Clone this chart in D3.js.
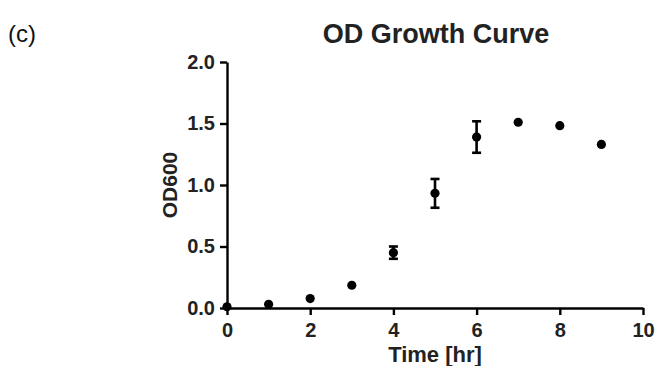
<!DOCTYPE html>
<html><head><meta charset="utf-8">
<script src="https://cdn.jsdelivr.net/npm/d3@7"></script>
<style>body{margin:0;background:#fff}svg{display:block}text{font-family:"Liberation Sans",Arial,sans-serif}</style>
</head><body>
<script>
const times = [0, 1, 2, 3, 4, 5, 6, 7, 8, 9];
const od600 = [0.01, 0.03, 0.077, 0.185, 0.45, 0.932, 1.39, 1.51, 1.482, 1.33];
const sdErr = [0, 0, 0, 0, 0.05, 0.117, 0.128, 0, 0, 0];
const xTicks = [0, 2, 4, 6, 8, 10];
const yTicks = [0, 0.5, 1.0, 1.5, 2.0];

const W = 657, H = 366;
const svg = d3.select("body").append("svg").attr("width", W).attr("height", H);
const x = d3.scaleLinear().domain([0, 10]).range([227, 643]);
const y = d3.scaleLinear().domain([0, 2]).range([308, 62]);

const xAxis = svg.append("g").attr("transform", `translate(0,${y(0)})`)
  .call(d3.axisBottom(x).tickValues(xTicks).tickSize(7).tickSizeOuter(0).tickPadding(8).tickFormat(d3.format("d")));
const yAxis = svg.append("g").attr("transform", `translate(${x(0)},0)`)
  .call(d3.axisLeft(y).tickValues(yTicks).tickSize(7).tickSizeOuter(0).tickPadding(5).tickFormat(d3.format(".1f")));
[xAxis, yAxis].forEach(g => {
  g.select(".domain").attr("stroke", "#000").attr("stroke-width", 2.4);
  g.selectAll(".tick line").attr("stroke", "#000").attr("stroke-width", 2.4);
  g.selectAll(".tick text").attr("fill", "#222").style("font-size", "20px").style("font-weight", "bold");
});

// error bars
const eb = svg.append("g").attr("stroke", "#000").attr("stroke-width", 2.6);
times.forEach((t, i) => {
  if (sdErr[i] > 0) {
    const cx = x(t), y1 = y(od600[i] + sdErr[i]), y2 = y(od600[i] - sdErr[i]);
    eb.append("line").attr("x1", cx).attr("x2", cx).attr("y1", y1).attr("y2", y2);
    eb.append("line").attr("x1", cx - 4.5).attr("x2", cx + 4.5).attr("y1", y1).attr("y2", y1);
    eb.append("line").attr("x1", cx - 4.5).attr("x2", cx + 4.5).attr("y1", y2).attr("y2", y2);
  }
});

svg.append("g").selectAll("circle").data(times).join("circle")
  .attr("cx", d => x(d)).attr("cy", (d, i) => y(od600[i])).attr("r", 4.6).attr("fill", "#000");

svg.append("text").attr("x", 8).attr("y", 42).style("font-size", "24px").attr("fill", "#111").text("(c)");
svg.append("text").attr("x", 436).attr("y", 43).attr("text-anchor", "middle")
  .style("font-size", "27px").style("font-weight", "bold").attr("fill", "#222").text("OD Growth Curve");
svg.append("text").attr("x", 435).attr("y", 362).attr("text-anchor", "middle")
  .style("font-size", "22px").style("font-weight", "bold").attr("fill", "#222").text("Time [hr]");
svg.append("text").attr("transform", `translate(177,${y(1)}) rotate(-90)`).attr("text-anchor", "middle")
  .style("font-size", "21px").style("font-weight", "bold").attr("fill", "#222").text("OD600");
</script>
</body></html>
